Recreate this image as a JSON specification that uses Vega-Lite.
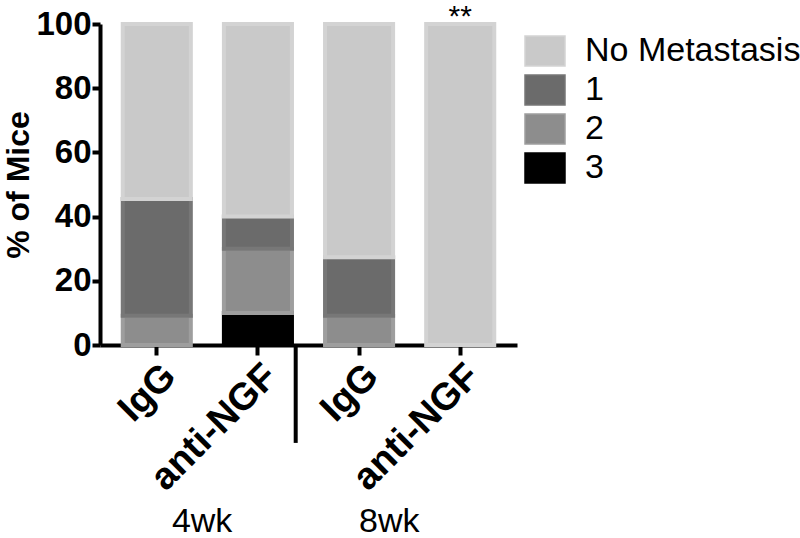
{
  "$schema": "https://vega.github.io/schema/vega-lite/v6.json",
  "width": 417,
  "height": 321,
  "autosize": {"type": "none"},
  "padding": {"left": 100, "top": 24, "right": 283, "bottom": 193},
  "config": {
    "view": {"stroke": null},
    "font": "Liberation Sans",
    "axisX": {"labelAngle": -45, "labelFontSize": 38, "labelFontWeight": "bold", "labelColor": "black", "labelLimit": 0,
      "domainWidth": 4, "domainColor": "black", "tickWidth": 4, "tickColor": "black", "tickSize": 10, "labelPadding": 2},
    "axisY": {"titleFontSize": 32, "titleFontWeight": "bold", "titleColor": "black", "labelFontSize": 33, "labelFontWeight": "bold",
      "labelColor": "black", "grid": false, "domainWidth": 4, "domainColor": "black", "tickWidth": 4, "tickColor": "black",
      "tickSize": 8, "labelPadding": 1, "titlePadding": 0}
  },
  "datasets": {
    "bars": [
      {"grp": "IgG 4wk", "cat": "2", "rank": 2, "pct": 9.1},
      {"grp": "IgG 4wk", "cat": "1", "rank": 3, "pct": 36.4},
      {"grp": "IgG 4wk", "cat": "No Metastasis", "rank": 4, "pct": 54.5},
      {"grp": "anti-NGF 4wk", "cat": "3", "rank": 1, "pct": 10},
      {"grp": "anti-NGF 4wk", "cat": "2", "rank": 2, "pct": 20},
      {"grp": "anti-NGF 4wk", "cat": "1", "rank": 3, "pct": 10},
      {"grp": "anti-NGF 4wk", "cat": "No Metastasis", "rank": 4, "pct": 60},
      {"grp": "IgG 8wk", "cat": "2", "rank": 2, "pct": 9.1},
      {"grp": "IgG 8wk", "cat": "1", "rank": 3, "pct": 18.2},
      {"grp": "IgG 8wk", "cat": "No Metastasis", "rank": 4, "pct": 72.7},
      {"grp": "anti-NGF 8wk", "cat": "No Metastasis", "rank": 4, "pct": 100}
    ],
    "marks": [{"grp": "anti-NGF 8wk", "y": 107, "t": "**"}],
    "weeks": [{"week": "4wk", "y": -55}, {"week": "8wk", "y": -55}],
    "sep": [{"week": "8wk", "y0": 0, "y1": -30.5}]
  },
  "layer": [
    {
      "layer": [
        {
          "data": {"name": "bars"},
          "mark": {"type": "bar", "strokeWidth": 4},
          "encoding": {
            "x": {
              "field": "grp", "type": "nominal",
              "scale": {"domain": ["IgG 4wk", "anti-NGF 4wk", "IgG 8wk", "anti-NGF 8wk"], "paddingInner": 0.327, "paddingOuter": 0.225},
              "axis": {"title": null, "labelExpr": "split(datum.label, ' ')[0]"}
            },
            "y": {
              "field": "pct", "type": "quantitative", "stack": "zero",
              "scale": {"domain": [0, 100]},
              "axis": {"title": "% of Mice", "values": [0, 20, 40, 60, 80, 100]}
            },
            "fill": {
              "field": "cat", "type": "nominal",
              "scale": {"domain": ["No Metastasis", "1", "2", "3"], "range": ["#c9c9c9", "#6b6b6b", "#8d8d8d", "#000000"]},
              "legend": {"title": null, "orient": "right", "offset": 1, "padding": 6, "symbolType": "M-1,-0.75h2v1.5h-2z", "symbolSize": 1600,
                "labelFontSize": 34, "labelFont": "Liberation Sans", "labelColor": "black", "labelOffset": 19, "rowPadding": -1, "labelLimit": 0}
            },
            "stroke": {
              "field": "cat", "type": "nominal",
              "scale": {"domain": ["No Metastasis", "1", "2", "3"], "range": ["#d3d3d3", "#777777", "#9e9e9e", "#000000"]},
              "legend": null
            },
            "order": {"field": "rank", "type": "quantitative"}
          }
        },
        {
          "data": {"name": "marks"},
          "mark": {"type": "text", "fontSize": 30, "baseline": "top", "color": "black"},
          "encoding": {
            "x": {"field": "grp", "type": "nominal"},
            "y": {"field": "y", "type": "quantitative"},
            "text": {"field": "t"}
          }
        }
      ]
    },
    {
      "layer": [
        {
          "data": {"name": "weeks"},
          "mark": {"type": "text", "fontSize": 34, "baseline": "middle", "color": "black"},
          "encoding": {
            "x": {"field": "week", "type": "nominal", "scale": {"domain": ["4wk", "8wk"], "paddingInner": 0, "paddingOuter": 0.114, "align": 0.2}, "axis": null},
            "y": {"field": "y", "type": "quantitative", "scale": {"domain": [0, 100]}},
            "text": {"field": "week"}
          }
        },
        {
          "data": {"name": "sep"},
          "mark": {"type": "rule", "strokeWidth": 4, "color": "black"},
          "encoding": {
            "x": {"field": "week", "type": "nominal", "bandPosition": 0},
            "y": {"field": "y0", "type": "quantitative"},
            "y2": {"field": "y1"}
          }
        }
      ]
    }
  ],
  "resolve": {"scale": {"x": "independent"}}
}
